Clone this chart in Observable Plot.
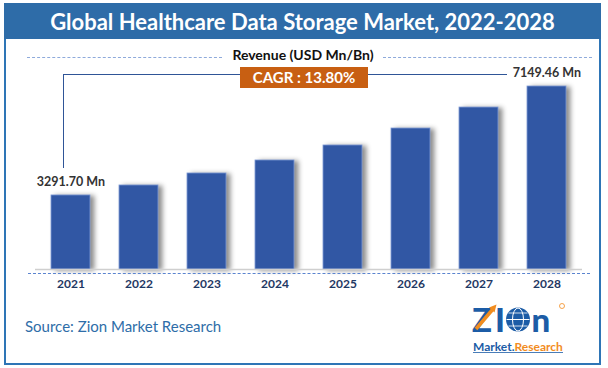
<!DOCTYPE html>
<html>
<head>
<meta charset="utf-8">
<script src="https://cdn.jsdelivr.net/npm/d3@7"></script>
<script src="https://cdn.jsdelivr.net/npm/@observablehq/plot@0.6"></script>
<style>
  html, body { margin: 0; padding: 0; background: #fff; }
  #wrap { position: relative; width: 608px; height: 368px; overflow: hidden; font-family: Lato, "Open Sans", sans-serif; }
  .abs { position: absolute; }
  #frame { left: 4px; top: 3px; width: 597px; height: 362px; box-sizing: border-box; border: 2px solid #2E75B6; }
  #titlebar { left: 4px; top: 3px; width: 597px; height: 36px; background: #2E6CA8; color: #fff; font-weight: bold; font-size: 22px; text-align: center; line-height: 37px; white-space: nowrap; }
  .dash { height: 0; border-top: 1.3px dashed #8EAADB; }
  .solid { background: #2F5597; }
  #revenue { left: 200px; width: 206px; top: 46px; text-align: center; font-weight: bold; font-size: 14px; color: #111; white-space: nowrap; }
  #cagr { left: 240px; top: 67px; width: 128px; height: 21px; background: #C85F12; color: #fff; font-weight: bold; font-size: 15px; line-height: 21px; text-align: center; white-space: nowrap; }
  #source { left: 25px; top: 317px; font-size: 15px; color: #2E6DA8; white-space: nowrap; }
  #plot { left: 0; top: 0; }
  #logo { left: 468px; top: 294px; width: 104px; height: 64px; overflow: visible; }
</style>
</head>
<body>
<div id="wrap">
  <div id="frame" class="abs"></div>
  <div id="titlebar" class="abs"></div>
  <div id="plot" class="abs"></div>
  <div class="abs dash" style="left:27px;top:57px;width:195px;"></div>
  <div class="abs dash" style="left:383px;top:57px;width:209px;"></div>
  <div id="revenue" class="abs"></div>
  <div class="abs solid" style="left:63px;top:73.5px;width:177px;height:1.3px;"></div>
  <div class="abs solid" style="left:63px;top:73.5px;width:1.3px;height:94px;"></div>
  <div class="abs solid" style="left:368px;top:73.5px;width:139px;height:1.3px;"></div>
  <div id="cagr" class="abs"></div>
  <div class="abs dash" style="left:28px;top:273px;width:562px;border-top-color:#5B84CF;"></div>
  <div id="source" class="abs"></div>
  <svg id="logo" class="abs" viewBox="0 0 104 64">
    <text x="4" y="37.5" font-family="Lato" font-weight="900" font-size="33" fill="#1C5CA6">Z</text>
    <path d="M8 35 L25 15" stroke="#F28C1E" stroke-width="3.5" fill="none"/>
    <path d="M21 13.5 L28.5 10.5 L26.5 18.5 Z" fill="#F28C1E"/>
    <text x="27" y="37.5" font-family="Lato" font-weight="900" font-size="33" fill="#1C5CA6">I</text>
    <circle cx="50" cy="25.5" r="12" fill="#1C5CA6"/>
    <ellipse cx="50" cy="25.5" rx="5.5" ry="11.5" fill="none" stroke="#fff" stroke-width="1"/>
    <line x1="38.5" y1="25.5" x2="61.5" y2="25.5" stroke="#fff" stroke-width="1"/>
    <line x1="40.5" y1="19" x2="59.5" y2="19" stroke="#fff" stroke-width="0.8"/>
    <line x1="40.5" y1="32" x2="59.5" y2="32" stroke="#fff" stroke-width="0.8"/>
    <text x="63.5" y="37.5" font-family="Lato" font-weight="900" font-size="33" fill="#1C5CA6">n</text>
    <circle cx="94" cy="12" r="2.5" fill="none" stroke="#F28C1E" stroke-width="0.8"/>
    <text x="5" y="56.5" font-family="Lato" font-weight="bold" font-size="12" fill="#1C5CA6">Market.<tspan fill="#F28C1E">Research</tspan></text>
    <path d="M5 58.5 L95 58.5" stroke="#1C5CA6" stroke-width="0.8"/>
  </svg>
</div>
<script>
// ---- data ----
const title = "Global Healthcare Data Storage Market, 2022-2028";
const axisLabel = "Revenue (USD Mn/Bn)";
const cagrText = "CAGR : 13.80%";
const sourceText = "Source: Zion Market Research";
const years = ["2021", "2022", "2023", "2024", "2025", "2026", "2027", "2028"];
const revenue = [3291.70, 3645, 4070, 4530, 5061, 5662, 6405, 7149.46];
const valueLabels = ["3291.70 Mn", "", "", "", "", "", "", "7149.46 Mn"];

document.getElementById("titlebar").textContent = title;
document.getElementById("revenue").textContent = axisLabel;
document.getElementById("cagr").textContent = cagrText;
document.getElementById("source").textContent = sourceText;

const data = years.map((y, i) => ({year: y, value: revenue[i], label: valueLabels[i]}));
const yMin = 670, yMax = 8070;

const chart = Plot.plot({
  width: 608,
  height: 368,
  marginLeft: 35,
  marginRight: 26,
  marginTop: 60,
  marginBottom: 99,
  style: {background: "transparent", fontFamily: "Lato, sans-serif", overflow: "visible"},
  x: {domain: years, paddingInner: 0.43, paddingOuter: 0.19, label: null},
  y: {domain: [yMin, yMax], axis: null},
  marks: [
    Plot.barY(data, {x: "year", y1: () => yMin, y2: "value", fill: "#3157A4", stroke: "#7F9BD6", strokeWidth: 0.8}),
    Plot.ruleY([yMin], {stroke: "#CFCFCF", strokeWidth: 1.5}),
    Plot.text(data.filter(d => d.label), {x: "year", y: "value", text: "label", dy: -13, fontSize: 12.5, fontWeight: "bold", fill: "#333"}),
    Plot.axisX({tickSize: 0, tickPadding: 10, fontSize: 12, fontWeight: "bold", color: "#1F3864", label: null})
  ]
});
d3.select(chart).selectAll('g[aria-label="bar"] rect').style("filter", "drop-shadow(4px 1px 2.5px rgba(0,0,0,0.45))");
document.getElementById("plot").appendChild(chart);
</script>
</body>
</html>
